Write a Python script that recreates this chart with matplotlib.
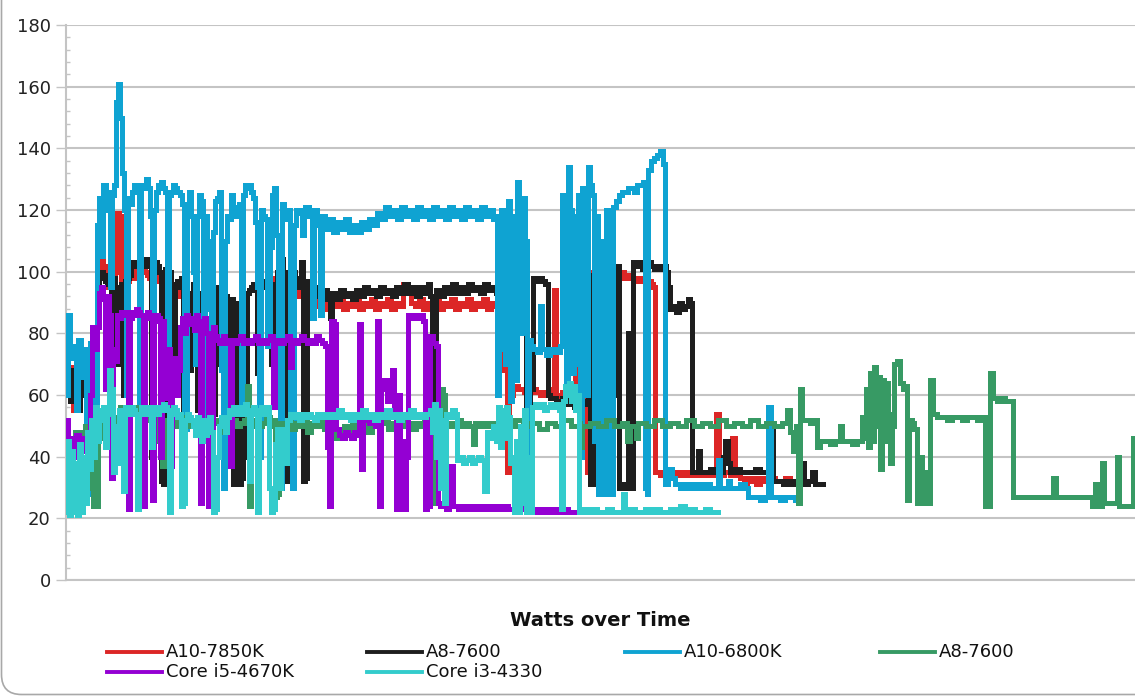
import matplotlib
matplotlib.use("Agg")
import matplotlib.pyplot as plt
from matplotlib.ticker import MultipleLocator
from matplotlib.lines import Line2D
from matplotlib.patches import FancyBboxPatch

# power draw (W) per sample: (sample, watts)
a10_7850k = [(0, 68), (2, 62), (4, 69), (7, 55), (10, 62), (12, 58), (14, 65), (17, 62), (20, 58), (22, 67),
             (24, 60), (27, 50), (29, 62), (31, 88), (33, 100), (35, 104), (37, 102), (39, 100), (41, 95),
             (43, 98), (45, 72), (47, 97), (49, 100), (51, 119), (53, 118), (55, 96), (57, 60), (59, 96),
             (61, 97), (63, 98), (65, 100), (67, 101), (69, 98), (71, 100), (73, 99), (75, 100), (77, 101),
             (79, 100), (81, 99), (83, 98), (85, 45), (87, 99), (89, 100), (91, 99), (93, 97), (95, 35),
             (97, 40), (99, 98), (101, 100), (103, 97), (105, 90), (107, 70), (109, 93), (111, 94), (113, 92),
             (115, 95), (117, 60), (119, 92), (121, 88), (123, 70), (125, 90), (127, 93), (129, 92), (131, 60),
             (133, 90), (135, 91), (137, 93), (139, 94), (141, 95), (143, 97), (145, 93), (147, 58), (149, 92),
             (151, 91), (153, 72), (155, 90), (157, 63), (159, 89), (161, 85), (163, 73), (165, 88), (167, 35),
             (169, 36), (171, 87), (173, 35), (175, 38), (177, 86), (179, 45), (181, 93), (183, 94), (185, 94),
             (187, 95), (189, 96), (191, 70), (193, 96), (195, 96), (197, 97), (199, 97), (201, 98), (203, 95),
             (205, 72), (207, 97), (209, 98), (211, 99), (213, 100), (215, 101), (217, 98), (219, 35), (221, 37),
             (223, 93), (225, 100), (227, 98), (229, 93), (231, 92), (233, 96), (235, 98), (237, 35), (239, 36),
             (241, 93), (243, 92), (245, 90), (247, 89), (249, 91), (253, 89), (257, 90), (261, 88), (265, 90),
             (269, 89), (273, 91), (277, 88), (281, 90), (285, 89), (289, 91), (293, 88), (297, 90), (301, 89),
             (305, 91), (309, 88), (313, 90), (317, 89), (321, 91), (325, 88), (329, 90), (333, 89), (337, 96),
             (341, 95), (345, 90), (349, 89), (353, 91), (357, 88), (361, 90), (365, 89), (369, 91), (373, 88),
             (377, 90), (381, 89), (385, 91), (389, 88), (393, 90), (397, 89), (401, 91), (405, 88), (409, 90),
             (413, 89), (417, 91), (421, 88), (425, 90), (429, 89), (431, 89), (433, 75), (436, 68), (439, 72),
             (441, 35), (443, 66), (445, 60), (447, 62), (449, 63), (452, 62), (455, 62), (458, 61), (461, 62),
             (464, 61), (467, 62), (470, 61), (474, 60), (478, 61), (482, 62), (486, 60), (488, 94), (490, 60),
             (493, 59), (496, 61), (499, 62), (502, 60), (506, 62), (509, 70), (512, 75), (515, 74), (518, 62),
             (521, 35), (523, 37), (525, 100), (528, 101), (531, 100), (534, 99), (537, 100), (540, 101),
             (543, 100), (546, 99), (549, 100), (552, 99), (555, 100), (558, 98), (561, 99), (564, 98), (567, 97),
             (570, 98), (573, 97), (576, 98), (579, 96), (582, 97), (585, 96), (587, 95), (589, 35), (594, 34),
             (599, 35), (604, 34), (609, 35), (614, 34), (619, 35), (624, 34), (629, 35), (634, 34), (639, 35),
             (644, 34), (650, 54), (653, 34), (658, 35), (664, 34), (666, 46), (669, 34), (674, 33), (678, 31),
             (681, 33), (684, 32), (687, 33), (690, 31), (694, 33), (699, 32), (704, 33), (709, 32), (714, 32),
             (719, 33), (724, 32), (727, 32)]

a8_7600 = [(0, 62), (2, 66), (4, 58), (7, 68), (10, 60), (12, 55), (14, 66), (17, 60), (20, 64), (22, 45),
           (24, 58), (27, 30), (29, 60), (31, 90), (33, 98), (35, 100), (37, 99), (39, 97), (41, 96), (43, 97),
           (45, 75), (47, 98), (49, 92), (51, 70), (53, 95), (55, 96), (57, 60), (59, 97), (61, 98), (63, 99),
           (65, 102), (67, 103), (69, 102), (71, 103), (73, 101), (75, 103), (77, 102), (79, 104), (81, 103),
           (83, 102), (85, 40), (87, 101), (89, 103), (91, 102), (93, 100), (95, 32), (97, 31), (99, 101),
           (101, 103), (103, 100), (105, 94), (107, 60), (109, 96), (111, 97), (113, 95), (115, 98), (117, 55),
           (119, 94), (121, 90), (123, 68), (125, 93), (127, 96), (129, 95), (131, 55), (133, 92), (135, 93),
           (137, 95), (139, 96), (141, 97), (143, 95), (145, 96), (147, 54), (149, 95), (151, 90), (153, 70),
           (155, 93), (157, 60), (159, 92), (161, 88), (163, 70), (165, 91), (167, 31), (169, 31), (171, 90),
           (173, 31), (175, 33), (177, 88), (179, 40), (181, 93), (183, 94), (185, 95), (187, 96), (189, 94),
           (191, 67), (193, 95), (195, 96), (197, 95), (199, 97), (201, 96), (203, 92), (205, 70), (207, 94),
           (209, 96), (211, 100), (213, 105), (215, 104), (217, 100), (219, 32), (221, 34), (223, 95), (225, 104),
           (227, 100), (229, 96), (231, 95), (233, 98), (235, 103), (237, 32), (239, 33), (241, 97), (243, 96),
           (245, 95), (247, 94), (249, 95), (253, 92), (257, 94), (261, 91), (264, 85), (266, 93), (270, 91),
           (274, 94), (278, 92), (282, 93), (286, 91), (290, 94), (294, 92), (298, 95), (302, 93), (306, 94),
           (310, 92), (314, 95), (318, 93), (322, 94), (326, 92), (330, 95), (334, 93), (338, 96), (342, 93),
           (346, 95), (350, 92), (354, 95), (358, 93), (362, 96), (364, 92), (366, 57), (368, 60), (370, 94),
           (374, 92), (378, 95), (382, 93), (386, 96), (390, 93), (394, 95), (398, 93), (402, 96), (406, 94),
           (410, 95), (414, 93), (418, 96), (422, 94), (426, 95), (430, 93), (434, 94), (437, 92), (440, 95),
           (443, 93), (446, 94), (449, 96), (452, 94), (455, 93), (458, 95), (460, 43), (462, 45), (464, 62),
           (467, 98), (470, 97), (473, 98), (476, 97), (479, 96), (482, 60), (484, 59), (487, 59), (490, 58),
           (493, 58), (496, 59), (500, 57), (504, 58), (508, 56), (512, 58), (516, 57), (520, 58), (522, 99),
           (524, 31), (527, 98), (530, 31), (533, 100), (536, 50), (539, 101), (541, 32), (544, 100), (547, 60),
           (550, 102), (553, 30), (556, 31), (559, 30), (562, 80), (564, 30), (567, 103), (570, 102), (573, 103),
           (576, 101), (579, 102), (582, 103), (585, 102), (588, 101), (591, 102), (594, 101), (597, 102),
           (600, 100), (602, 95), (604, 88), (607, 89), (610, 87), (613, 90), (616, 88), (619, 89), (622, 91),
           (624, 90), (626, 35), (629, 35), (632, 42), (634, 35), (639, 35), (644, 36), (649, 35), (654, 35),
           (657, 40), (659, 45), (662, 38), (664, 35), (669, 36), (674, 35), (679, 35), (684, 35), (689, 36),
           (694, 35), (699, 35), (704, 49), (707, 32), (712, 32), (717, 31), (722, 32), (727, 31), (731, 32),
           (734, 33), (736, 38), (738, 31), (742, 32), (746, 35), (749, 31), (754, 31), (757, 31)]

a10_6800k = [(0, 60), (2, 86), (4, 72), (7, 76), (10, 55), (12, 78), (15, 66), (18, 75), (20, 45), (22, 28),
             (24, 77), (27, 72), (29, 40), (31, 115), (33, 124), (35, 105), (37, 128), (40, 120), (42, 126),
             (44, 95), (46, 125), (48, 128), (50, 155), (52, 161), (54, 150), (56, 132), (58, 120), (60, 60),
             (62, 124), (64, 122), (66, 126), (68, 128), (71, 127), (73, 57), (75, 128), (77, 127), (80, 130),
             (82, 127), (84, 118), (86, 40), (88, 120), (90, 126), (92, 128), (95, 129), (97, 127), (99, 126),
             (101, 60), (103, 125), (105, 126), (107, 128), (109, 127), (111, 126), (114, 125), (116, 122),
             (118, 49), (121, 122), (123, 126), (125, 118), (127, 100), (129, 70), (131, 118), (133, 125),
             (135, 123), (137, 50), (139, 118), (141, 110), (143, 88), (145, 75), (147, 113), (149, 123),
             (151, 124), (153, 126), (155, 68), (157, 30), (159, 110), (161, 118), (163, 117), (165, 125),
             (167, 120), (169, 118), (171, 121), (173, 122), (175, 55), (177, 125), (179, 128), (181, 127),
             (183, 128), (185, 126), (187, 124), (189, 116), (191, 95), (193, 40), (195, 120), (197, 118),
             (199, 117), (201, 76), (204, 108), (206, 125), (208, 127), (210, 112), (212, 60), (214, 30),
             (216, 122), (218, 118), (220, 117), (222, 120), (224, 50), (226, 30), (228, 115), (230, 120),
             (232, 119), (234, 120), (236, 112), (238, 118), (239, 121), (243, 118), (246, 85), (248, 120),
             (251, 115), (254, 86), (256, 118), (259, 114), (263, 117), (267, 113), (271, 116), (275, 114),
             (279, 117), (283, 113), (287, 115), (291, 113), (295, 116), (299, 114), (303, 117), (307, 115),
             (311, 119), (315, 117), (319, 121), (323, 118), (327, 120), (331, 117), (335, 121), (339, 118),
             (343, 120), (347, 117), (351, 121), (355, 118), (359, 120), (363, 117), (367, 121), (371, 118),
             (375, 120), (379, 117), (383, 121), (387, 118), (391, 120), (395, 117), (399, 121), (403, 118),
             (407, 120), (411, 117), (415, 121), (419, 118), (423, 120), (427, 117), (429, 118), (431, 60),
             (433, 115), (435, 120), (437, 75), (439, 70), (442, 123), (444, 58), (446, 118), (448, 65),
             (451, 129), (453, 122), (455, 80), (457, 124), (459, 110), (461, 35), (463, 78), (465, 76),
             (467, 75), (471, 74), (474, 89), (476, 75), (480, 73), (484, 75), (489, 74), (494, 76), (496, 125),
             (498, 110), (500, 60), (502, 134), (504, 120), (506, 67), (508, 118), (510, 70), (512, 125),
             (514, 40), (516, 127), (518, 115), (520, 60), (522, 134), (524, 128), (526, 125), (528, 45),
             (530, 118), (532, 28), (534, 30), (536, 110), (538, 28), (540, 120), (542, 30), (544, 28),
             (547, 121), (550, 123), (553, 125), (556, 126), (559, 126), (562, 127), (565, 127), (568, 126),
             (571, 128), (574, 128), (577, 129), (579, 30), (581, 28), (582, 133), (585, 136), (588, 137),
             (591, 138), (594, 139), (597, 135), (599, 31), (602, 34), (604, 36), (606, 33), (609, 31),
             (614, 30), (619, 31), (624, 30), (629, 31), (634, 30), (639, 31), (644, 30), (652, 39), (654, 30),
             (659, 30), (662, 32), (664, 30), (669, 30), (674, 31), (679, 30), (682, 27), (689, 27), (694, 26),
             (699, 27), (702, 56), (705, 27), (709, 27), (714, 26), (719, 27), (724, 27), (729, 26), (734, 26)]

a8_7600_b = [(0, 45), (4, 40), (9, 48), (14, 42), (19, 50), (22, 30), (24, 45), (27, 24), (30, 24), (32, 46),
             (35, 50), (38, 52), (41, 48), (44, 51), (47, 53), (50, 50), (54, 56), (57, 52), (59, 49), (62, 55),
             (65, 54), (68, 56), (71, 53), (74, 55), (77, 54), (80, 52), (83, 55), (86, 53), (89, 52), (92, 45),
             (94, 51), (96, 37), (98, 48), (101, 52), (104, 53), (107, 50), (110, 52), (114, 51), (118, 53),
             (122, 50), (126, 52), (130, 49), (134, 51), (138, 50), (142, 53), (146, 51), (150, 52), (154, 50),
             (158, 48), (162, 51), (166, 52), (170, 50), (174, 51), (178, 52), (181, 63), (183, 24), (185, 50),
             (188, 52), (192, 50), (196, 51), (200, 53), (204, 50), (207, 52), (209, 27), (211, 28), (213, 51),
             (217, 50), (221, 52), (225, 49), (229, 51), (233, 50), (237, 52), (241, 48), (245, 51), (249, 50),
             (254, 52), (258, 49), (262, 50), (266, 48), (270, 46), (274, 48), (278, 50), (282, 47), (286, 51),
             (290, 49), (294, 52), (298, 50), (302, 48), (306, 50), (310, 52), (314, 51), (318, 53), (322, 49),
             (326, 51), (330, 50), (334, 52), (338, 50), (342, 51), (346, 49), (350, 51), (354, 50), (358, 52),
             (362, 49), (365, 46), (367, 25), (370, 27), (372, 55), (375, 62), (377, 60), (379, 50), (383, 51),
             (387, 50), (391, 52), (395, 50), (399, 51), (403, 50), (407, 44), (409, 51), (413, 50), (417, 51),
             (421, 50), (425, 51), (429, 50), (433, 51), (441, 50), (449, 52), (457, 50), (465, 51), (473, 49),
             (481, 51), (489, 50), (497, 52), (505, 50), (513, 51), (514, 43), (516, 50), (524, 51), (532, 50),
             (540, 52), (548, 50), (556, 51), (561, 45), (564, 50), (570, 46), (572, 51), (580, 50), (588, 52),
             (596, 50), (604, 51), (612, 50), (620, 52), (628, 50), (636, 51), (644, 50), (652, 52), (660, 50),
             (668, 51), (676, 50), (684, 52), (692, 50), (700, 51), (708, 50), (716, 51), (721, 55), (724, 48),
             (727, 42), (730, 50), (732, 25), (734, 62), (736, 52), (740, 52), (744, 51), (748, 52), (751, 43),
             (754, 45), (759, 45), (764, 44), (769, 45), (774, 50), (776, 45), (781, 45), (786, 44), (791, 45),
             (796, 53), (798, 46), (800, 62), (802, 43), (804, 67), (806, 45), (808, 69), (810, 50), (812, 66),
             (814, 36), (816, 65), (818, 45), (820, 64), (822, 54), (824, 38), (826, 50), (828, 70), (831, 71),
             (834, 64), (837, 62), (839, 63), (841, 26), (843, 52), (846, 51), (848, 49), (851, 25), (854, 40),
             (856, 25), (859, 35), (861, 25), (864, 65), (867, 54), (871, 53), (876, 53), (881, 52), (886, 53),
             (891, 53), (896, 52), (901, 53), (906, 53), (911, 52), (916, 53), (919, 24), (922, 24), (924, 67),
             (927, 59), (931, 58), (935, 59), (939, 58), (943, 58), (947, 27), (954, 27), (964, 27), (974, 27),
             (984, 27), (987, 33), (990, 27), (999, 27), (1009, 27), (1019, 27), (1026, 24), (1029, 31),
             (1031, 24), (1036, 38), (1038, 25), (1044, 25), (1051, 40), (1053, 24), (1059, 24), (1067, 46),
             (1069, 46)]

core_i5_4670k = [(0, 45), (1, 52), (2, 37), (4, 46), (7, 40), (10, 47), (13, 42), (16, 46), (19, 44), (22, 38),
                 (24, 60), (26, 82), (29, 75), (31, 82), (33, 93), (35, 95), (37, 91), (39, 62), (41, 92),
                 (43, 86), (45, 33), (47, 75), (49, 71), (51, 86), (53, 85), (55, 87), (57, 86), (59, 87),
                 (61, 86), (62, 23), (64, 85), (66, 87), (68, 86), (70, 88), (72, 87), (74, 86), (77, 24),
                 (79, 85), (81, 87), (83, 86), (86, 26), (88, 84), (90, 86), (92, 85), (94, 40), (96, 84),
                 (98, 70), (100, 59), (102, 75), (104, 37), (106, 65), (108, 72), (110, 60), (112, 68), (114, 82),
                 (116, 85), (118, 80), (120, 86), (122, 83), (124, 85), (126, 84), (128, 81), (130, 86), (132, 84),
                 (134, 25), (136, 83), (138, 85), (140, 80), (142, 24), (145, 24), (147, 82), (149, 79), (151, 78),
                 (153, 77), (155, 78), (157, 79), (159, 77), (161, 78), (164, 37), (166, 78), (168, 77), (171, 78),
                 (174, 79), (177, 77), (180, 78), (183, 77), (186, 78), (189, 79), (192, 77), (195, 78), (198, 77),
                 (201, 78), (204, 79), (207, 56), (209, 77), (212, 78), (215, 77), (218, 78), (221, 79), (224, 69),
                 (226, 78), (229, 77), (232, 78), (235, 79), (238, 78), (241, 77), (244, 78), (247, 77), (250, 79),
                 (253, 78), (256, 77), (259, 76), (261, 43), (263, 24), (265, 84), (268, 83), (270, 49), (273, 47),
                 (276, 46), (279, 48), (282, 47), (285, 46), (288, 48), (291, 47), (293, 83), (295, 36), (297, 53),
                 (300, 52), (303, 51), (306, 53), (309, 50), (311, 84), (313, 24), (315, 62), (318, 65), (321, 58),
                 (324, 60), (326, 68), (328, 55), (330, 23), (332, 60), (334, 23), (336, 45), (338, 23), (340, 40),
                 (342, 86), (345, 85), (348, 86), (351, 85), (354, 86), (357, 84), (359, 23), (361, 24), (364, 79),
                 (367, 77), (370, 76), (372, 25), (374, 24), (377, 24), (380, 23), (383, 24), (385, 37), (387, 24),
                 (392, 23), (397, 24), (402, 23), (407, 24), (412, 23), (417, 24), (422, 23), (427, 24), (432, 23),
                 (437, 24), (442, 23), (447, 23), (452, 24), (457, 23), (462, 22), (467, 23), (472, 22), (477, 23),
                 (482, 22), (487, 23), (492, 22), (497, 23), (502, 22), (507, 22), (511, 22)]

core_i3_4330 = [(0, 22), (1, 45), (3, 21), (5, 42), (7, 22), (9, 38), (11, 21), (13, 44), (15, 22), (17, 40),
                (19, 25), (21, 48), (23, 36), (25, 52), (27, 40), (29, 56), (31, 45), (33, 55), (35, 52), (37, 56),
                (39, 43), (41, 54), (43, 68), (45, 62), (47, 35), (49, 50), (51, 38), (53, 55), (55, 54), (57, 29),
                (59, 56), (61, 55), (63, 54), (65, 56), (67, 55), (69, 54), (71, 23), (73, 54), (75, 56), (77, 55),
                (79, 54), (81, 56), (83, 55), (85, 43), (87, 56), (89, 55), (91, 54), (93, 56), (95, 55), (97, 57),
                (99, 56), (101, 55), (103, 22), (105, 54), (107, 56), (109, 55), (111, 53), (113, 54), (115, 24),
                (117, 25), (119, 52), (121, 54), (123, 53), (125, 52), (127, 50), (129, 47), (131, 53), (133, 51),
                (135, 45), (137, 52), (139, 47), (141, 51), (143, 53), (145, 48), (147, 22), (149, 23), (151, 40),
                (153, 50), (155, 53), (157, 52), (159, 48), (161, 53), (163, 55), (165, 54), (167, 56), (169, 55),
                (171, 54), (173, 56), (175, 55), (177, 54), (179, 57), (181, 55), (183, 32), (185, 54), (187, 56),
                (189, 55), (191, 22), (193, 54), (195, 56), (197, 55), (199, 54), (201, 56), (203, 30), (205, 22),
                (207, 23), (209, 44), (211, 49), (213, 30), (215, 45), (217, 49), (219, 38), (221, 52), (224, 54),
                (227, 53), (230, 54), (233, 52), (236, 54), (239, 53), (242, 54), (245, 53), (248, 52), (251, 54),
                (254, 53), (257, 54), (260, 53), (264, 54), (268, 53), (272, 55), (276, 53), (280, 54), (284, 52),
                (288, 54), (292, 53), (296, 55), (300, 53), (304, 54), (308, 52), (312, 54), (316, 53), (320, 55),
                (324, 53), (328, 54), (332, 52), (336, 54), (340, 53), (344, 55), (348, 53), (352, 54), (356, 53),
                (360, 54), (364, 55), (366, 48), (368, 57), (370, 40), (372, 55), (374, 30), (376, 52), (378, 25),
                (380, 54), (383, 53), (386, 55), (389, 54), (391, 39), (394, 40), (397, 38), (400, 39), (403, 40),
                (406, 38), (409, 39), (412, 40), (415, 39), (418, 29), (421, 48), (424, 46), (427, 50), (430, 45),
                (432, 56), (434, 43), (436, 55), (438, 46), (440, 56), (442, 53), (444, 38), (446, 40), (448, 22),
                (450, 45), (452, 22), (454, 50), (456, 25), (458, 55), (460, 22), (462, 40), (464, 22), (466, 56),
                (469, 57), (472, 56), (475, 57), (478, 55), (481, 56), (484, 57), (487, 56), (490, 57), (493, 55),
                (495, 23), (497, 58), (499, 63), (501, 60), (503, 64), (505, 58), (507, 63), (509, 55), (511, 60),
                (513, 22), (516, 23), (521, 22), (526, 23), (531, 22), (536, 22), (541, 23), (546, 22), (551, 22),
                (557, 28), (559, 22), (564, 23), (569, 22), (574, 22), (579, 23), (584, 22), (589, 23), (594, 22),
                (599, 22), (604, 23), (609, 22), (614, 24), (619, 22), (624, 23), (629, 22), (634, 22), (639, 23),
                (644, 22), (652, 22)]

series = [
    ("A10-7850K", a10_7850k, "#dc2626"),
    ("A8-7600", a8_7600, "#1e1e1e"),
    ("A10-6800K", a10_6800k, "#0fa3d2"),
    ("A8-7600", a8_7600_b, "#379a64"),
    ("Core i5-4670K", core_i5_4670k, "#9400d3"),
    ("Core i3-4330", core_i3_4330, "#33cccc"),
]

W, H = 1135, 696
fig = plt.figure(figsize=(W / 100, H / 100), dpi=100)
ax = fig.add_axes([66 / W, 116 / H, (W - 66) / W, 555 / H])

for i, (name, pts, col) in enumerate(series):
    t = [p[0] for p in pts]
    w = [p[1] for p in pts]
    ax.plot(t, w, color=col, lw=2.3, drawstyle="steps-post", zorder=3 + i,
            solid_joinstyle="miter", antialiased=False)

ax.set_xlim(0, 1069)
ax.set_ylim(0, 180)
ax.yaxis.set_major_locator(MultipleLocator(20))
ax.yaxis.set_minor_locator(MultipleLocator(4))
ax.set_xticks([])
ax.grid(axis="y", which="major", color="#c4c4c4", lw=1.5, zorder=0)
ax.set_axisbelow(True)
for s in ["top", "right"]:
    ax.spines[s].set_visible(False)
for s in ["left", "bottom"]:
    ax.spines[s].set_color("#c4c4c4")
    ax.spines[s].set_linewidth(1.5)
ax.tick_params(axis="y", which="major", direction="out", length=7, width=1, color="#c4c4c4",
               labelsize=13, labelcolor="#222222", pad=4)
ax.tick_params(axis="y", which="minor", direction="in", length=3, width=1, color="#c4c4c4")

fig.text(600 / W, 1 - 621 / H, "Watts over Time", ha="center", va="center",
         fontsize=14, fontweight="bold", color="#111111")

# legend laid out in two rows like the original
leg_x = [107, 367, 625, 880]
leg_y = [652, 672]
order = [(0, 0), (0, 1), (0, 2), (0, 3), (1, 0), (1, 1)]
for (name, pts, col), (r, c) in zip(series, order):
    x0 = leg_x[c]
    y = 1 - leg_y[r] / H
    fig.add_artist(Line2D([x0 / W, (x0 + 55) / W], [y, y], color=col, lw=2.8, transform=fig.transFigure))
    fig.text((x0 + 59) / W, y, name, ha="left", va="center", fontsize=13, color="#111111")

frame = FancyBboxPatch((0.015, 0.015), 13, 9, boxstyle="round,pad=0,rounding_size=0.2",
                       transform=fig.dpi_scale_trans, fill=False, edgecolor="#a8a8a8", lw=1.2)
fig.add_artist(frame)

fig.savefig("out.png", dpi=100)
